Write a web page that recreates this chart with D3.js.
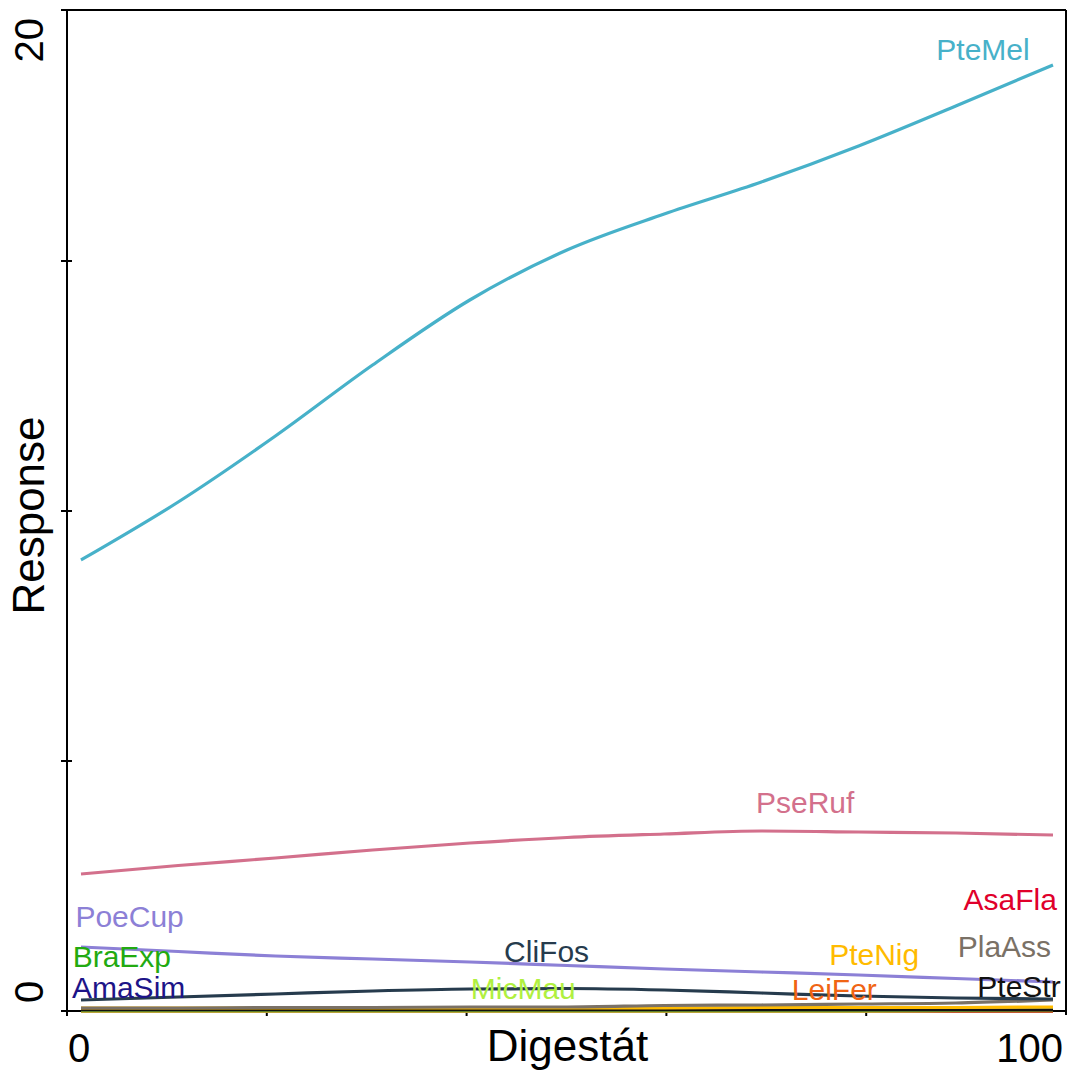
<!DOCTYPE html>
<html>
<head>
<meta charset="utf-8">
<script src="https://cdn.jsdelivr.net/npm/d3@7"></script>
<style>
  html, body { margin: 0; padding: 0; background: #fff; }
  svg { display: block; }
  text { font-family: "Liberation Sans", Arial, sans-serif; }
</style>
</head>
<body>
<svg id="chart" width="1075" height="1071"></svg>
<script>
// Sampled positions along the Digestát gradient
const xSteps = [0, 10, 20, 30, 40, 50, 60, 70, 80, 90, 100];

// Species names, in drawing order (bottom layer first)
const species = ["AmaSim", "BraExp", "AsaFla", "LeiFer", "MicMau", "PteStr",
                 "PteNig", "PlaAss", "CliFos", "PoeCup", "PseRuf", "PteMel"];

// Fitted response of each species at xSteps
const AmaSim = [0, 0, 0, 0, 0, 0, 0, 0, 0, 0, 0];
const BraExp = [0, 0, 0, 0, 0, 0, 0, 0, 0, 0, 0];
const AsaFla = [0, 0, 0, 0, 0, 0, 0, 0, 0, 0, 0];
const LeiFer = [0, 0, 0, 0, 0, 0, 0, 0, 0, 0, 0];
const MicMau = [0, 0, 0, 0, 0, 0, 0, 0, 0, 0.01, 0.02];
const PteStr = [0.02, 0.02, 0.02, 0.02, 0.02, 0.02, 0.02, 0.02, 0.02, 0.02, 0.02];
const PteNig = [0.06, 0.06, 0.06, 0.06, 0.06, 0.06, 0.06, 0.07, 0.07, 0.07, 0.08];
const PlaAss = [0.06, 0.06, 0.07, 0.07, 0.08, 0.08, 0.11, 0.12, 0.14, 0.16, 0.22];
const CliFos = [0.22, 0.28, 0.34, 0.40, 0.44, 0.45, 0.42, 0.36, 0.30, 0.26, 0.24];
const PoeCup = [1.28, 1.19, 1.10, 1.04, 0.98, 0.91, 0.84, 0.78, 0.72, 0.65, 0.58];
const PseRuf = [2.74, 2.91, 3.06, 3.22, 3.36, 3.47, 3.54, 3.60, 3.58, 3.56, 3.52];
const PteMel = [9.02, 10.18, 11.50, 12.92, 14.22, 15.22, 15.94, 16.58, 17.30, 18.10, 18.92];

// Where each species name is written (x along gradient, response value)
const labelX = [4.9, 4.2, 95.6, 77.5, 45.5, 96.5, 81.6, 95.0, 47.9, 5.0, 74.5, 92.8];
const labelY = [0.26, 0.88, 2.02, 0.22, 0.24, 0.28, 0.92, 1.08, 0.98, 1.68, 3.96, 19.02];

const colors = ["#1d1488", "#22aa11", "#e0002b", "#f06414", "#b0f040", "#111111",
                "#ffbb00", "#7a7166", "#263b4d", "#8c80d6", "#d3708c", "#47b1c9"];

const seriesValues = { AmaSim, BraExp, AsaFla, LeiFer, MicMau, PteStr,
                       PteNig, PlaAss, CliFos, PoeCup, PseRuf, PteMel };

const yTickLabels = ["0", "20"];
const xTickLabels = ["0", "100"];

const svg = d3.select("#chart");

// Frame of the plot
const frame = { left: 67, right: 1066, top: 10, bottom: 1011 };

const x = d3.scaleLinear().domain([0, 100]).range([81, 1053]);
const y = d3.scaleLinear().domain([0, 20]).range([1011, 11]);

// Frame box
const g = svg.append("g");
g.append("line").attr("x1", frame.left - 6).attr("x2", frame.right)
  .attr("y1", frame.top).attr("y2", frame.top);
g.append("line").attr("x1", frame.left - 6).attr("x2", frame.right)
  .attr("y1", frame.bottom).attr("y2", frame.bottom);
g.append("line").attr("x1", frame.left).attr("x2", frame.left)
  .attr("y1", frame.top).attr("y2", frame.bottom + 5);
g.append("line").attr("x1", frame.right).attr("x2", frame.right)
  .attr("y1", frame.top).attr("y2", frame.bottom + 4);
g.selectAll("line").attr("stroke", "#000").attr("stroke-width", 2);

// Y ticks at 5, 10, 15
const yTicks = d3.range(5, 20, 5);
g.selectAll(".ytick").data(yTicks).enter().append("line")
  .attr("class", "ytick")
  .attr("x1", frame.left - 6).attr("x2", frame.left + 5)
  .attr("y1", d => y(d)).attr("y2", d => y(d))
  .attr("stroke", "#000").attr("stroke-width", 2);

// X ticks divide the frame into fifths
const xFrame = d3.scaleLinear().domain([x.invert(frame.left), x.invert(frame.right)])
  .range([frame.left, frame.right]);
const [fx0, fx1] = xFrame.domain();
const xTicks = d3.range(1, 5).map(k => fx0 + k * (fx1 - fx0) / 5);
g.selectAll(".xtick").data(xTicks).enter().append("line")
  .attr("class", "xtick")
  .attr("x1", d => xFrame(d)).attr("x2", d => xFrame(d))
  .attr("y1", frame.bottom).attr("y2", frame.bottom + 5)
  .attr("stroke", "#000").attr("stroke-width", 2);

// Axis labels
svg.append("text").text(yTickLabels[0])
  .attr("transform", `translate(43, ${frame.bottom - 8}) rotate(-90)`)
  .attr("text-anchor", "start").attr("font-size", 40);
svg.append("text").text(yTickLabels[1])
  .attr("transform", `translate(43, ${frame.top + 8}) rotate(-90)`)
  .attr("text-anchor", "end").attr("font-size", 40);
svg.append("text").text("Response")
  .attr("transform", `translate(44, ${(frame.top + frame.bottom) / 2 + 5}) rotate(-90)`)
  .attr("text-anchor", "middle").attr("font-size", 44);

svg.append("text").text(xTickLabels[0])
  .attr("x", frame.left + 1).attr("y", 1062)
  .attr("text-anchor", "start").attr("font-size", 40);
svg.append("text").text(xTickLabels[1])
  .attr("x", frame.right - 3).attr("y", 1062)
  .attr("text-anchor", "end").attr("font-size", 40);
svg.append("text").text("Digestát")
  .attr("x", (frame.left + frame.right) / 2 + 1).attr("y", 1061)
  .attr("text-anchor", "middle").attr("font-size", 44);

// Response curves
const line = d3.line()
  .x((d, i) => x(xSteps[i]))
  .y(d => y(d))
  .curve(d3.curveMonotoneX);

svg.append("g").selectAll("path").data(species).enter().append("path")
  .attr("d", s => line(seriesValues[s]))
  .attr("fill", "none")
  .attr("stroke", (s, i) => colors[i])
  .attr("stroke-width", 3.2);

// Species names
svg.append("g").selectAll("text").data(species).enter().append("text")
  .text(s => s)
  .attr("x", (s, i) => x(labelX[i]))
  .attr("y", (s, i) => y(labelY[i]))
  .attr("text-anchor", "middle")
  .attr("font-size", 30)
  .attr("fill", (s, i) => colors[i]);
</script>
</body>
</html>
